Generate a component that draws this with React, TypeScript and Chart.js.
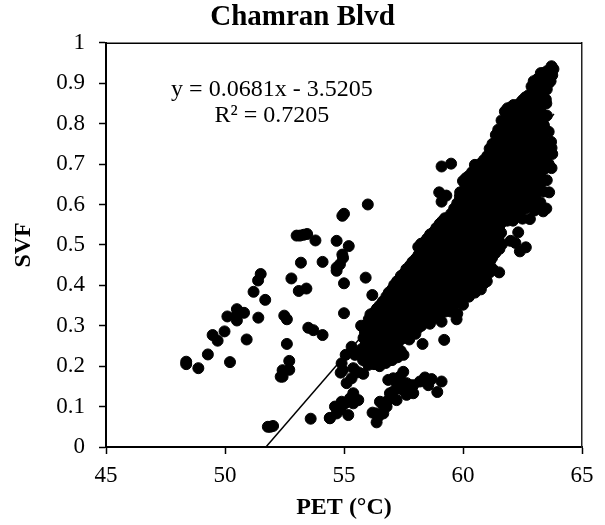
import React, { useEffect, useRef } from "react";
import { Chart, registerables } from "chart.js";

Chart.register(...registerables);

const chartTitle = "Chamran Blvd";
const xTitle = "PET (°C)";
const yTitle = "SVF";
const equationLines = ["y = 0.0681x - 3.5205", "R² = 0.7205"];

// Regression line end points [PET, SVF]
const trendLine: number[][] = [[51.72, 0.0], [63.82, 0.824]];

// Scattered points to the left of the main band [PET, SVF]
const leftPoints: number[][] = [
  [48.37, 0.211], [48.37, 0.205], [48.88, 0.195], [49.28, 0.229], [50.21, 0.21], [49.48, 0.277],
  [49.69, 0.263], [49.98, 0.286], [50.91, 0.266], [50.1, 0.323], [50.5, 0.341], [50.5, 0.313],
  [50.8, 0.332], [50.5, 0.327], [51.4, 0.32], [51.2, 0.384], [51.39, 0.412], [51.5, 0.428],
  [51.69, 0.364], [52.79, 0.417], [52.49, 0.325], [52.6, 0.316], [52.6, 0.255], [52.7, 0.213],
  [52.7, 0.191], [52.42, 0.19], [52.34, 0.174], [52.42, 0.174], [51.8, 0.05], [52.02, 0.052],
  [51.9, 0.05], [53.6, 0.07], [54.4, 0.072], [53.19, 0.456], [54.1, 0.458], [53.8, 0.511],
  [53.01, 0.523], [53.15, 0.523], [53.3, 0.525], [53.45, 0.527], [54.69, 0.51], [53.1, 0.386],
  [53.42, 0.392], [55.0, 0.405], [55.0, 0.331], [53.5, 0.295], [53.71, 0.289], [54.1, 0.277],
  [54.93, 0.572], [55.0, 0.577], [54.93, 0.476], [54.96, 0.468], [54.83, 0.452], [54.69, 0.444],
  [54.69, 0.436], [55.2, 0.497], [56.0, 0.6], [55.91, 0.419], [56.19, 0.376],
];

// Low clusters under the main band [PET, SVF]
const lowPoints: number[][] = [
  [56.86, 0.166], [57.07, 0.17], [57.49, 0.186], [57.63, 0.158], [57.21, 0.158], [57.91, 0.153],
  [58.4, 0.172], [58.68, 0.168], [59.1, 0.162], [58.92, 0.136], [58.54, 0.153], [57.63, 0.129],
  [57.91, 0.133], [57.07, 0.137], [57.21, 0.116], [56.93, 0.133], [56.51, 0.112], [56.79, 0.1],
  [56.2, 0.085], [56.65, 0.083], [56.37, 0.061], [56.44, 0.075], [57.35, 0.174], [57.77, 0.153],
  [58.19, 0.162], [56.86, 0.116], [56.65, 0.104], [56.37, 0.083], [57.35, 0.145], [57.5, 0.14],
  [55.39, 0.133], [55.6, 0.116], [55.25, 0.12], [54.9, 0.112], [54.62, 0.1], [54.69, 0.083],
  [55.18, 0.079], [55.11, 0.158], [55.32, 0.17], [54.86, 0.184], [55.39, 0.195], [55.81, 0.181],
  [55.04, 0.108], [55.39, 0.108], [54.41, 0.071], [54.86, 0.093], [54.9, 0.207], [55.07, 0.228],
  [55.46, 0.228], [55.32, 0.248], [54.95, 0.19], [55.6, 0.185],
];

// Isolated points around the band [PET, SVF]
const outlierPoints: number[][] = [
  [59.1, 0.694], [59.5, 0.701], [60.5, 0.698], [59.0, 0.63], [59.3, 0.622], [59.1, 0.607],
  [63.62, 0.63], [58.3, 0.255], [59.21, 0.265], [58.61, 0.305], [59.1, 0.31], [59.73, 0.316],
  [61.52, 0.432], [62.39, 0.484], [62.64, 0.494], [62.2, 0.505], [62.0, 0.51], [62.32, 0.531],
  [62.81, 0.564], [62.1, 0.56], [63.37, 0.583],
  [57.11, 0.401], [57.39, 0.423], [58.29, 0.47], [58.4, 0.508], [59.28, 0.558], [59.7, 0.581], [59.87, 0.62],
];

const bandLowerPoints: number[][] = [
  [55.8, 0.215], [55.76, 0.243], [55.82, 0.27], [55.72, 0.3],
  [56.02, 0.203], [56.0, 0.232], [56.05, 0.258], [55.98, 0.285], [56.04, 0.316],
  [56.26, 0.205], [56.22, 0.228], [56.28, 0.254], [56.25, 0.281], [56.3, 0.31], [56.24, 0.332],
  [56.5, 0.2], [56.48, 0.226], [56.54, 0.277], [56.47, 0.302], [56.52, 0.328], [56.5, 0.35],
  [56.76, 0.208], [56.72, 0.24], [56.78, 0.27], [56.74, 0.295], [56.77, 0.322], [56.73, 0.348], [56.78, 0.372],
  [57.02, 0.215], [56.98, 0.25], [57.04, 0.272], [57.0, 0.3], [57.03, 0.327], [56.97, 0.352], [57.02, 0.39],
  [57.25, 0.222], [57.22, 0.252], [57.27, 0.278], [57.24, 0.306], [57.28, 0.33], [57.22, 0.357], [57.26, 0.384], [57.23, 0.41],
  [57.5, 0.228], [57.52, 0.27], [57.47, 0.297], [57.53, 0.322], [57.49, 0.35], [57.52, 0.376], [57.47, 0.403], [57.5, 0.428],
  [57.74, 0.266], [57.78, 0.29], [57.73, 0.316], [57.76, 0.345], [57.72, 0.37], [57.78, 0.398], [57.74, 0.424], [57.77, 0.449],
  [58.0, 0.28], [58.03, 0.305], [57.98, 0.333], [58.02, 0.358], [57.97, 0.385], [58.04, 0.412], [57.99, 0.44], [58.02, 0.466],
  [58.25, 0.3], [58.22, 0.327], [58.27, 0.352], [58.24, 0.38], [58.28, 0.407], [58.23, 0.432], [58.26, 0.46], [58.22, 0.482], [58.24, 0.503],
  [58.5, 0.313], [58.53, 0.34], [58.48, 0.365], [58.52, 0.392], [58.47, 0.418], [58.54, 0.445], [58.49, 0.472], [58.52, 0.498], [58.5, 0.516],
  [58.76, 0.318], [58.73, 0.345], [58.78, 0.37], [58.74, 0.398], [58.77, 0.425], [58.72, 0.45], [58.78, 0.478], [58.74, 0.505], [58.77, 0.532],
  [59.0, 0.325], [59.03, 0.352], [58.98, 0.38], [59.02, 0.405], [58.97, 0.432], [59.04, 0.46], [58.99, 0.485], [59.02, 0.512], [58.98, 0.535], [59.02, 0.552],
  [59.25, 0.335], [59.22, 0.362], [59.27, 0.388], [59.24, 0.415], [59.28, 0.442], [59.23, 0.468], [59.26, 0.495], [59.22, 0.522], [59.27, 0.547], [59.24, 0.566],
  [59.5, 0.335], [59.53, 0.365], [59.48, 0.392], [59.52, 0.42], [59.47, 0.446], [59.54, 0.472], [59.49, 0.5], [59.52, 0.526], [59.47, 0.552], [59.5, 0.577],
];

const bandUpperPoints: number[][] = [
  [59.76, 0.33], [59.73, 0.365], [59.78, 0.395], [59.74, 0.422], [59.77, 0.45], [59.72, 0.476], [59.78, 0.504], [59.74, 0.53], [59.77, 0.556], [59.73, 0.582], [59.76, 0.603],
  [60.0, 0.352], [60.03, 0.38], [59.98, 0.408], [60.02, 0.435], [59.97, 0.462], [60.04, 0.49], [59.99, 0.516], [60.02, 0.543], [59.98, 0.57], [60.03, 0.597], [59.98, 0.624], [60.0, 0.658],
  [60.25, 0.372], [60.22, 0.4], [60.27, 0.426], [60.24, 0.454], [60.28, 0.48], [60.23, 0.507], [60.26, 0.534], [60.22, 0.561], [60.27, 0.588], [60.24, 0.615], [60.27, 0.642], [60.23, 0.67],
  [60.5, 0.382], [60.53, 0.41], [60.48, 0.437], [60.52, 0.465], [60.47, 0.492], [60.54, 0.52], [60.49, 0.546], [60.52, 0.573], [60.47, 0.6], [60.53, 0.628], [60.49, 0.655], [60.52, 0.684],
  [60.75, 0.39], [60.72, 0.418], [60.78, 0.445], [60.74, 0.472], [60.77, 0.5], [60.73, 0.527], [60.78, 0.554], [60.74, 0.581], [60.77, 0.608], [60.72, 0.635], [60.78, 0.662], [60.74, 0.684], [60.76, 0.702],
  [61.0, 0.41], [61.03, 0.438], [60.98, 0.466], [61.02, 0.492], [60.97, 0.52], [61.04, 0.547], [60.99, 0.574], [61.02, 0.6], [60.98, 0.628], [61.03, 0.655], [60.98, 0.682], [61.02, 0.72],
  [61.25, 0.44], [61.22, 0.468], [61.28, 0.495], [61.24, 0.522], [61.27, 0.55], [61.23, 0.577], [61.28, 0.604], [61.24, 0.631], [61.27, 0.658], [61.22, 0.685], [61.27, 0.712], [61.24, 0.75],
  [61.53, 0.49], [61.48, 0.517], [61.52, 0.545], [61.47, 0.572], [61.54, 0.6], [61.49, 0.627], [61.52, 0.654], [61.47, 0.68], [61.53, 0.708], [61.49, 0.735], [61.52, 0.762], [61.48, 0.785],
  [61.74, 0.572], [61.77, 0.6], [61.72, 0.626], [61.78, 0.654], [61.74, 0.68], [61.77, 0.708], [61.72, 0.735], [61.78, 0.762], [61.74, 0.79], [61.76, 0.83],
  [62.03, 0.575], [61.98, 0.602], [62.02, 0.63], [61.97, 0.656], [62.04, 0.684], [61.99, 0.71], [62.02, 0.738], [61.98, 0.765], [62.03, 0.792], [61.98, 0.82], [62.0, 0.84],
  [62.25, 0.585], [62.22, 0.612], [62.28, 0.64], [62.24, 0.666], [62.27, 0.694], [62.23, 0.72], [62.28, 0.748], [62.24, 0.775], [62.27, 0.802], [62.22, 0.828], [62.26, 0.845],
  [62.5, 0.565], [62.53, 0.595], [62.48, 0.622], [62.52, 0.65], [62.47, 0.676], [62.54, 0.703], [62.49, 0.73], [62.52, 0.757], [62.47, 0.784], [62.53, 0.81], [62.49, 0.838], [62.5, 0.858],
  [62.76, 0.6], [62.73, 0.628], [62.78, 0.655], [62.74, 0.682], [62.77, 0.71], [62.72, 0.737], [62.78, 0.764], [62.74, 0.79], [62.77, 0.818], [62.72, 0.845], [62.75, 0.87],
  [63.0, 0.585], [63.03, 0.615], [62.98, 0.642], [63.02, 0.67], [62.97, 0.697], [63.04, 0.724], [62.99, 0.75], [63.02, 0.778], [62.98, 0.805], [63.03, 0.832], [62.98, 0.86], [63.0, 0.887], [62.97, 0.905],
  [63.25, 0.605], [63.22, 0.64], [63.28, 0.667], [63.24, 0.694], [63.27, 0.72], [63.23, 0.748], [63.28, 0.775], [63.24, 0.8], [63.27, 0.828], [63.22, 0.855], [63.27, 0.882], [63.24, 0.905], [63.27, 0.925],
  [63.5, 0.59], [63.52, 0.66], [63.47, 0.69], [63.53, 0.72], [63.49, 0.748], [63.46, 0.785], [63.48, 0.86], [63.52, 0.885], [63.47, 0.91], [63.53, 0.93],
  [63.72, 0.69], [63.75, 0.725], [63.7, 0.755], [63.68, 0.905], [63.75, 0.92], [63.8, 0.935], [63.72, 0.942],
];

// More points read between the slices above, lower half of the band [PET, SVF]
const bandFillLower: number[][] = [
  [55.9, 0.228], [55.92, 0.256], [55.88, 0.284], [56.12, 0.218], [56.14, 0.245], [56.1, 0.27], [56.13, 0.298], [56.11, 0.328],
  [56.38, 0.216], [56.36, 0.242], [56.4, 0.268], [56.37, 0.295], [56.39, 0.32], [56.38, 0.342],
  [56.62, 0.214], [56.64, 0.252], [56.6, 0.285], [56.63, 0.312], [56.61, 0.338], [56.63, 0.36],
  [56.88, 0.226], [56.86, 0.256], [56.9, 0.283], [56.87, 0.31], [56.89, 0.337], [56.86, 0.362], [56.88, 0.382],
  [57.12, 0.232], [57.14, 0.262], [57.1, 0.288], [57.13, 0.315], [57.11, 0.342], [57.14, 0.37],
  [57.38, 0.238], [57.36, 0.265], [57.4, 0.29], [57.37, 0.317], [57.39, 0.344], [57.36, 0.37], [57.4, 0.396],
  [57.62, 0.275], [57.64, 0.304], [57.6, 0.332], [57.63, 0.36], [57.61, 0.386], [57.64, 0.413], [57.62, 0.44],
  [57.88, 0.286], [57.86, 0.318], [57.9, 0.345], [57.87, 0.372], [57.89, 0.4], [57.86, 0.428], [57.88, 0.458],
  [58.12, 0.295], [58.14, 0.32], [58.1, 0.347], [58.13, 0.372], [58.11, 0.398], [58.14, 0.425], [58.1, 0.452], [58.13, 0.475], [58.12, 0.495],
  [58.38, 0.314], [58.36, 0.34], [58.4, 0.366], [58.37, 0.393], [58.39, 0.42], [58.36, 0.447], [58.4, 0.473], [58.38, 0.5],
  [58.62, 0.33], [58.64, 0.356], [58.6, 0.382], [58.63, 0.41], [58.61, 0.436], [58.64, 0.462], [58.6, 0.49], [58.63, 0.512], [58.62, 0.526],
  [58.88, 0.335], [58.86, 0.362], [58.9, 0.39], [58.87, 0.415], [58.89, 0.443], [58.86, 0.47], [58.9, 0.496], [58.87, 0.522], [58.88, 0.542],
  [59.12, 0.345], [59.14, 0.372], [59.1, 0.398], [59.13, 0.425], [59.11, 0.452], [59.14, 0.478], [59.1, 0.505], [59.13, 0.53], [59.12, 0.558],
  [59.38, 0.348], [59.36, 0.378], [59.4, 0.405], [59.37, 0.432], [59.39, 0.458], [59.36, 0.484], [59.4, 0.512], [59.37, 0.538], [59.39, 0.566],
  [59.62, 0.352], [59.64, 0.38], [59.6, 0.406], [59.63, 0.434], [59.61, 0.46], [59.64, 0.488], [59.6, 0.515], [59.63, 0.54], [59.61, 0.566], [59.63, 0.59],
];

// More points read between the slices above, upper half of the band [PET, SVF]
const bandFillUpper: number[][] = [
  [59.88, 0.362], [59.86, 0.392], [59.9, 0.42], [59.87, 0.447], [59.89, 0.474], [59.86, 0.5], [59.9, 0.528], [59.87, 0.555], [59.89, 0.58], [59.86, 0.608], [59.88, 0.63],
  [60.12, 0.375], [60.14, 0.405], [60.1, 0.432], [60.13, 0.46], [60.11, 0.486], [60.14, 0.514], [60.1, 0.54], [60.13, 0.567], [60.11, 0.594], [60.14, 0.62], [60.1, 0.648], [60.12, 0.665],
  [60.38, 0.386], [60.36, 0.414], [60.4, 0.44], [60.37, 0.468], [60.39, 0.494], [60.36, 0.522], [60.4, 0.548], [60.37, 0.575], [60.39, 0.602], [60.36, 0.63], [60.4, 0.656], [60.38, 0.68],
  [60.62, 0.396], [60.64, 0.424], [60.6, 0.45], [60.63, 0.478], [60.61, 0.505], [60.64, 0.532], [60.6, 0.56], [60.63, 0.587], [60.61, 0.614], [60.64, 0.64], [60.6, 0.668], [60.62, 0.69],
  [60.88, 0.405], [60.86, 0.432], [60.9, 0.458], [60.87, 0.486], [60.89, 0.514], [60.86, 0.54], [60.9, 0.567], [60.87, 0.594], [60.89, 0.62], [60.86, 0.648], [60.9, 0.675], [60.88, 0.71],
  [61.12, 0.432], [61.14, 0.46], [61.1, 0.486], [61.13, 0.513], [61.11, 0.54], [61.14, 0.567], [61.1, 0.594], [61.13, 0.62], [61.11, 0.648], [61.14, 0.675], [61.1, 0.702], [61.12, 0.738],
  [61.36, 0.48], [61.4, 0.507], [61.37, 0.534], [61.39, 0.56], [61.36, 0.588], [61.4, 0.615], [61.37, 0.642], [61.39, 0.67], [61.36, 0.696], [61.4, 0.724], [61.37, 0.75], [61.38, 0.772],
  [61.64, 0.502], [61.6, 0.53], [61.63, 0.556], [61.61, 0.584], [61.64, 0.61], [61.6, 0.638], [61.63, 0.665], [61.61, 0.692], [61.64, 0.72], [61.6, 0.746], [61.63, 0.774], [61.62, 0.808],
  [61.86, 0.56], [61.9, 0.588], [61.87, 0.615], [61.89, 0.642], [61.86, 0.67], [61.9, 0.696], [61.87, 0.724], [61.89, 0.75], [61.86, 0.778], [61.9, 0.806], [61.87, 0.838],
  [62.12, 0.59], [62.14, 0.618], [62.1, 0.645], [62.13, 0.672], [62.11, 0.698], [62.14, 0.726], [62.1, 0.752], [62.13, 0.78], [62.11, 0.808], [62.14, 0.832], [62.12, 0.846],
  [62.38, 0.572], [62.36, 0.6], [62.4, 0.628], [62.37, 0.655], [62.39, 0.682], [62.36, 0.708], [62.4, 0.736], [62.37, 0.762], [62.39, 0.79], [62.36, 0.818], [62.38, 0.85],
  [62.62, 0.59], [62.64, 0.618], [62.6, 0.645], [62.63, 0.672], [62.61, 0.7], [62.64, 0.726], [62.6, 0.754], [62.63, 0.78], [62.61, 0.808], [62.64, 0.835], [62.62, 0.865],
  [62.88, 0.6], [62.86, 0.628], [62.9, 0.656], [62.87, 0.684], [62.89, 0.71], [62.86, 0.737], [62.9, 0.764], [62.87, 0.792], [62.89, 0.82], [62.86, 0.848], [62.9, 0.874], [62.88, 0.892],
  [63.12, 0.605], [63.14, 0.632], [63.1, 0.66], [63.13, 0.686], [63.11, 0.714], [63.14, 0.74], [63.1, 0.768], [63.13, 0.795], [63.11, 0.822], [63.14, 0.848], [63.1, 0.876], [63.12, 0.91],
  [63.38, 0.632], [63.36, 0.66], [63.4, 0.688], [63.37, 0.714], [63.39, 0.742], [63.36, 0.768], [63.4, 0.796], [63.37, 0.822], [63.39, 0.85], [63.36, 0.878], [63.4, 0.9], [63.38, 0.925],
  [63.6, 0.7], [63.62, 0.735], [63.6, 0.78], [63.52, 0.82], [63.5, 0.85], [63.6, 0.9], [63.62, 0.93], [63.72, 0.74],
];

const tickFont = { family: "'Liberation Serif'", size: 23 };
const titleFontFamily = "'Liberation Serif'";

const allScatter = [
  ...leftPoints, ...lowPoints, ...outlierPoints,
  ...bandLowerPoints, ...bandUpperPoints, ...bandFillLower, ...bandFillUpper,
];

const toXY = (rows: number[][]) => rows.map(([x, y]) => ({ x, y }));

export default function App() {
  const ref = useRef<HTMLCanvasElement | null>(null);
  useEffect(() => {
    if (!ref.current) return;
    const overlay = {
      id: "overlay",
      afterDatasetsDraw(chart: any) {
        const { ctx, chartArea: a } = chart;
        ctx.save();
        ctx.strokeStyle = "#000000";
        ctx.lineWidth = 1.5;
        ctx.beginPath();
        ctx.moveTo(a.left, a.top + 0.5);
        ctx.lineTo(a.right, a.top + 0.5);
        ctx.stroke();
        ctx.fillStyle = "#000000";
        ctx.font = "24px 'Liberation Serif'";
        ctx.textAlign = "center";
        ctx.textBaseline = "middle";
        const cx = chart.scales.x.getPixelForValue(51.97);
        ctx.fillText(equationLines[0], cx, chart.scales.y.getPixelForValue(0.885));
        ctx.fillText(equationLines[1], cx, chart.scales.y.getPixelForValue(0.82));
        ctx.restore();
      },
    };
    const chart = new Chart(ref.current, {
      type: "scatter",
      data: {
        datasets: [
          {
            label: "SVF",
            data: toXY(allScatter),
            backgroundColor: "#000000",
            borderColor: "#000000",
            pointRadius: 5.5,
            pointHoverRadius: 5.5,
          },
          {
            label: "Linear",
            data: toXY(trendLine),
            showLine: true,
            borderColor: "#000000",
            borderWidth: 1.5,
            pointRadius: 0,
          },
        ],
      },
      options: {
        responsive: false,
        animation: false,
        layout: { padding: 0 },
        plugins: {
          legend: { display: false },
          tooltip: { enabled: false },
          title: {
            display: true,
            text: chartTitle,
            color: "#000000",
            font: { family: titleFontFamily, size: 29, weight: "bold" },
            padding: { top: 0, bottom: 8 },
          },
        },
        scales: {
          x: {
            type: "linear",
            min: 45,
            max: 65,
            afterFit: (s: any) => { s.height = 78; },
            title: {
              display: true,
              text: xTitle,
              color: "#000000",
              font: { family: titleFontFamily, size: 24, weight: "bold" },
              padding: { top: 0, bottom: 3 },
            },
            ticks: {
              stepSize: 5,
              color: "#000000",
              font: tickFont,
              padding: 8,
              maxRotation: 0,
            },
            grid: { drawOnChartArea: false, color: "#000000", tickLength: 7, tickColor: "#000000", tickWidth: 1.5 },
            border: { color: "#000000", width: 2 },
          },
          y: {
            min: 0,
            max: 1,
            afterFit: (s: any) => { s.width = 106; },
            title: {
              display: true,
              text: yTitle,
              color: "#000000",
              font: { family: titleFontFamily, size: 24, weight: "bold" },
              padding: { top: 9, bottom: 0 },
            },
            ticks: {
              stepSize: 0.1,
              color: "#000000",
              font: tickFont,
              padding: 14,
              callback: (v: any) => String(Math.round(Number(v) * 10) / 10),
            },
            grid: { drawOnChartArea: false, color: "#000000", tickLength: 7, tickColor: "#000000", tickWidth: 1.5 },
            border: { color: "#000000", width: 2 },
          },
          yRight: {
            position: "right",
            min: 0,
            max: 1,
            afterFit: (s: any) => { s.width = 23; },
            ticks: { display: false },
            grid: { display: false },
            border: { color: "#222222", width: 1.5 },
          },
        },
      },
      plugins: [overlay],
    } as any);
    return () => chart.destroy();
  }, []);
  return (
    <canvas
      ref={ref}
      width={605}
      height={525}
      style={{ position: "absolute", left: 0, top: 0, width: 605, height: 525, display: "block" }}
    />
  );
}
